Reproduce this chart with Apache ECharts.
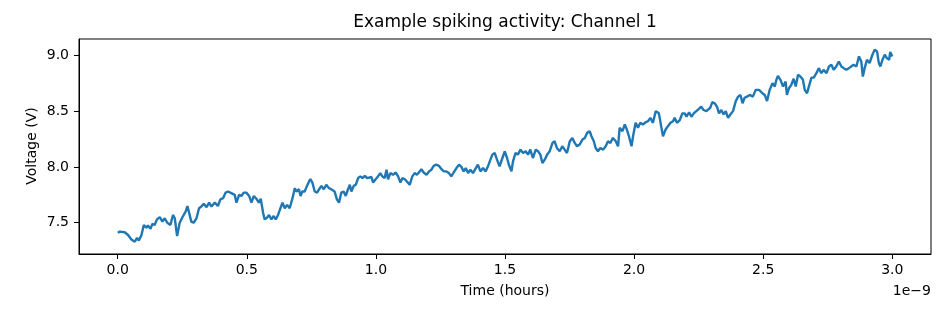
<!DOCTYPE html>
<html>
<head>
<meta charset="utf-8">
<script src="https://cdn.jsdelivr.net/npm/echarts@6/dist/echarts.min.js"></script>
<style>html,body{margin:0;padding:0;background:#fff}#c{width:947px;height:316px}</style>
</head>
<body>
<div id="c"></div>
<script>
// Time in units of 1e-9 hours (axis offset text "1e−9")
const times = [
0.000,0.008,0.027,0.040,0.053,0.059,0.066,0.075,0.082,0.092,0.101,0.111,0.117,0.127,0.134,0.143,0.152,0.163,0.173,0.182,
0.192,0.204,0.214,0.221,0.230,0.240,0.253,0.263,0.270,0.276,0.285,0.294,0.305,0.315,0.324,0.333,0.344,0.354,0.363,0.376,
0.388,0.398,0.408,0.418,0.427,0.440,0.453,0.460,0.470,
0.479,0.488,0.498,0.509,0.518,0.527,0.537,0.547,0.554,0.563,0.569,0.578,0.586,0.595,0.604,0.612,0.621,0.627,0.638,0.647,
0.656,0.666,0.677,0.686,0.692,0.702,0.708,0.715,0.724,0.733,0.741,0.746,0.754,0.763,0.772,0.780,0.789,0.798,0.808,0.818,
0.827,0.840,0.849,0.857,0.866,0.875,0.883,0.892,0.899,0.905,0.914,0.922,0.931,0.940,0.948,0.957,0.966,0.973,
0.983,0.989,0.999,1.008,1.017,1.025,1.034,1.041,1.047,1.056,1.066,1.077,1.086,1.095,1.103,1.112,1.120,1.131,1.141,1.150,
1.159,1.170,1.176,1.185,1.196,1.206,1.215,1.224,1.234,1.244,1.254,1.263,1.273,1.283,1.292,1.301,1.312,1.322,1.331,1.340,
1.348,1.357,1.366,1.376,1.387,1.395,1.405,1.415,1.425,1.434,
1.441,1.451,1.460,1.469,1.479,1.490,1.499,1.508,1.515,1.525,1.531,1.541,1.550,1.560,1.570,1.580,1.589,1.598,1.608,1.619,
1.628,1.637,1.645,1.654,1.663,1.673,1.684,1.692,1.701,1.712,1.722,1.731,1.740,1.751,1.761,1.770,1.779,1.789,1.800,1.809,
1.818,1.828,1.835,1.844,1.851,1.860,1.869,1.880,1.890,1.899,1.908,1.918,1.929,1.938,
1.944,1.955,1.964,1.972,1.980,1.990,1.996,2.006,2.015,2.024,2.034,2.045,2.054,2.063,2.073,2.084,2.089,2.096,2.106,2.112,
2.122,2.131,2.141,2.151,2.157,2.166,2.177,2.187,2.196,2.203,2.213,2.222,2.231,2.241,2.251,2.260,2.269,2.280,2.286,2.295,
2.303,2.312,2.321,2.329,2.338,2.347,2.355,2.364,2.373,2.383,2.394,2.403,2.412,2.420,2.428,2.437,
2.448,2.460,2.471,2.484,2.497,2.506,2.515,2.525,2.536,2.545,2.551,2.557,2.567,2.577,2.587,2.592,2.600,2.609,2.618,2.626,
2.635,2.644,2.654,2.661,2.670,2.677,2.687,2.696,2.706,2.716,2.725,2.734,2.745,2.755,2.764,2.773,2.783,2.793,2.803,2.812,
2.822,2.832,2.841,2.850,2.861,2.871,2.880,2.886,2.893,2.902,2.912,2.923,2.932,2.941,2.948,2.954,2.962,2.971,2.979,2.988,
2.992,3.000
];
const volts = [
7.41,7.42,7.415,7.39,7.35,7.365,7.33,7.365,7.34,7.39,7.48,7.455,7.475,7.445,7.49,7.48,7.53,7.55,7.51,7.54,
7.50,7.48,7.57,7.54,7.38,7.50,7.56,7.60,7.65,7.645,7.51,7.50,7.54,7.63,7.645,7.67,7.64,7.68,7.645,7.68,
7.65,7.71,7.72,7.77,7.78,7.765,7.75,7.68,7.75,
7.74,7.77,7.77,7.74,7.68,7.74,7.715,7.68,7.715,7.59,7.53,7.545,7.57,7.53,7.56,7.53,7.57,7.56,7.68,7.63,
7.66,7.63,7.72,7.81,7.78,7.80,7.74,7.78,7.78,7.83,7.87,7.89,7.86,7.78,7.77,7.80,7.83,7.80,7.84,7.81,
7.80,7.78,7.71,7.68,7.77,7.78,7.74,7.80,7.84,7.78,7.83,7.84,7.90,7.915,7.90,7.92,7.90,7.915,
7.91,7.86,7.89,7.915,7.945,7.915,7.90,7.975,7.89,7.945,7.93,7.95,7.915,7.86,7.90,7.89,7.87,7.84,7.915,7.945,
7.93,7.96,7.98,7.95,7.93,7.96,7.975,8.01,8.02,8.01,7.98,7.96,7.96,7.945,7.915,7.95,7.99,8.02,8.00,7.96,
7.99,7.945,7.975,7.945,7.99,8.02,7.96,7.99,7.96,8.005,
8.05,8.11,8.125,8.065,8.005,8.08,8.14,8.08,8.02,7.96,8.05,8.125,8.11,8.155,8.125,8.14,8.11,8.155,8.08,8.155,
8.14,8.11,8.035,8.065,8.11,8.14,8.215,8.23,8.17,8.14,8.185,8.155,8.125,8.23,8.26,8.215,8.185,8.20,8.245,8.26,
8.305,8.32,8.275,8.23,8.17,8.14,8.17,8.155,8.185,8.23,8.215,8.26,8.23,8.185,
8.35,8.32,8.38,8.335,8.275,8.185,8.275,8.395,8.35,8.395,8.38,8.40,8.41,8.44,8.395,8.50,8.51,8.48,8.35,8.275,
8.335,8.365,8.395,8.41,8.44,8.395,8.42,8.48,8.48,8.45,8.49,8.45,8.48,8.50,8.52,8.54,8.51,8.50,8.49,8.53,
8.58,8.57,8.54,8.48,8.51,8.47,8.50,8.44,8.47,8.50,8.59,8.63,8.645,8.57,8.62,8.63,
8.645,8.63,8.69,8.69,8.66,8.645,8.59,8.69,8.75,8.72,8.78,8.815,8.78,8.72,8.765,8.645,8.705,8.735,8.79,8.72,
8.825,8.81,8.78,8.69,8.66,8.72,8.80,8.80,8.84,8.885,8.84,8.87,8.84,8.90,8.915,8.87,8.90,8.945,8.90,8.885,
8.87,8.885,8.90,8.915,8.90,8.99,8.945,8.81,8.885,8.96,8.93,9.005,9.05,9.035,8.93,8.90,8.96,9.005,8.975,8.96,
9.03,8.99
];
const xTicks = [0.0, 0.5, 1.0, 1.5, 2.0, 2.5, 3.0];
const yTicks = [7.5, 8.0, 8.5, 9.0];

const FONT = '"DejaVu Sans", sans-serif';
const data = times.map((t, i) => [t, volts[i]]);
const chart = echarts.init(document.getElementById('c'), null, {renderer: 'canvas'});
chart.setOption({
  animation: false,
  backgroundColor: '#fff',
  grid: {left: 79, right: 16, top: 39, bottom: 62, show: true, borderColor: '#000', borderWidth: 1, backgroundColor: 'transparent'},
  xAxis: {
    type: 'value', min: -0.15, max: 3.15, position: 'bottom',
    axisLine: {show: true, onZero: false, lineStyle: {color: '#000', width: 1}},
    splitLine: {show: false},
    axisTick: {show: true, length: 5, inside: false, lineStyle: {color: '#000', width: 1}, customValues: xTicks},
    axisLabel: {customValues: xTicks, margin: 9, color: '#000', fontFamily: FONT, fontSize: 14, formatter: v => v.toFixed(1)}
  },
  yAxis: {
    type: 'value', min: 7.22, max: 9.146, position: 'left',
    axisLine: {show: true, onZero: false, lineStyle: {color: '#000', width: 1}},
    splitLine: {show: false},
    axisTick: {show: true, length: 5, inside: false, lineStyle: {color: '#000', width: 1}, customValues: yTicks},
    axisLabel: {customValues: yTicks, margin: 10, color: '#000', fontFamily: FONT, fontSize: 14, formatter: v => v.toFixed(1)}
  },
  series: [{
    type: 'line', data: data, showSymbol: false, symbol: 'none',
    lineStyle: {color: '#1f77b4', width: 2.4}, clip: true
  }],
  graphic: [
    {type: 'text', x: 505, y: 23, style: {text: 'Example spiking activity: Channel 1', font: '17px ' + FONT, fill: '#000', textAlign: 'center', textVerticalAlign: 'middle'}},
    {type: 'text', x: 505, y: 291, style: {text: 'Time (hours)', font: '14px ' + FONT, fill: '#000', textAlign: 'center', textVerticalAlign: 'middle'}},
    {type: 'text', x: 931, y: 291, style: {text: '1e\u22129', font: '14px ' + FONT, fill: '#000', textAlign: 'right', textVerticalAlign: 'middle'}},
    {type: 'text', x: 32, y: 146, rotation: Math.PI / 2, style: {text: 'Voltage (V)', font: '14px ' + FONT, fill: '#000', textAlign: 'center', textVerticalAlign: 'middle'}}
  ]
});
</script>
</body>
</html>
